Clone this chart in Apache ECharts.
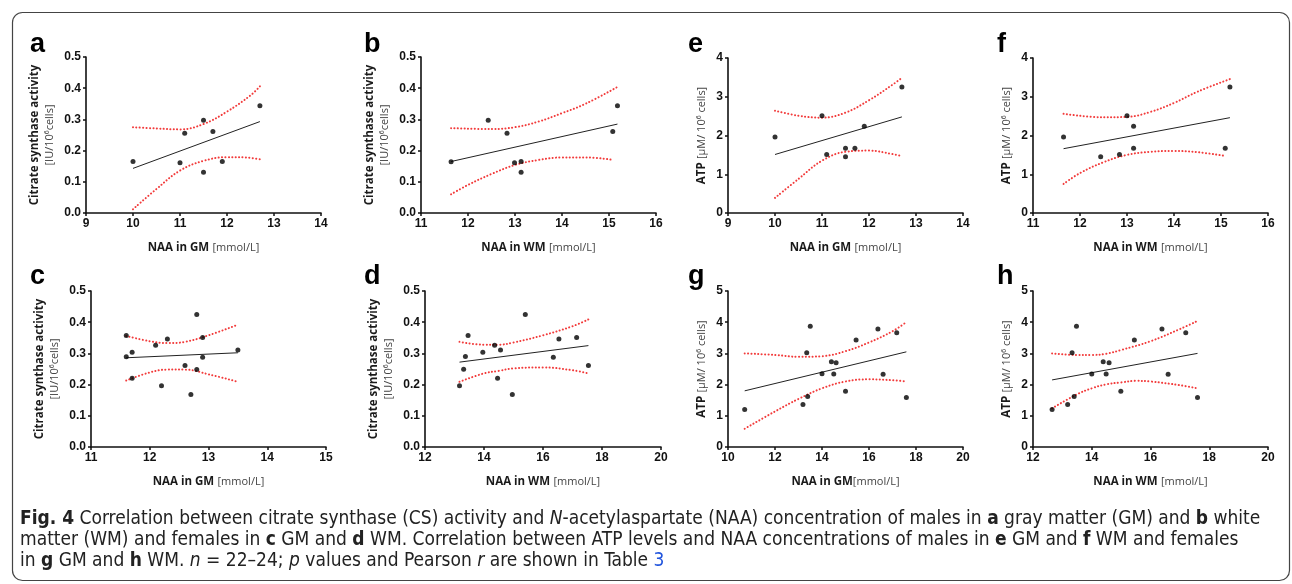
<!DOCTYPE html>
<html>
<head>
<meta charset="utf-8">
<script src="https://cdn.jsdelivr.net/npm/echarts/dist/echarts.min.js"></script>
<style>
html, body { margin: 0; padding: 0; background: #fff; }
#chart { width: 1292px; height: 584px; }
</style>
</head>
<body>
<div id="chart"></div>
<script>
// values: [NAA, y]
const aPts = [[10.0, 0.165], [11.0, 0.161], [11.1, 0.256], [11.5, 0.297], [11.7, 0.261], [11.5, 0.131], [11.9, 0.165], [12.7, 0.344]]
const aFit = [[10.0, 0.143], [12.7, 0.293]]
const aUpper = [[10.0, 0.275], [10.5, 0.271], [11.0, 0.268], [11.5, 0.285], [12.0, 0.325], [12.5, 0.377], [12.7, 0.406]]
const aLower = [[10.0, 0.012], [10.5, 0.077], [11.0, 0.136], [11.5, 0.167], [12.0, 0.179], [12.4, 0.178], [12.7, 0.172]]

const bPts = [[11.64, 0.164], [12.43, 0.297], [12.83, 0.256], [12.99, 0.161], [13.13, 0.165], [13.13, 0.131], [15.08, 0.261], [15.18, 0.344]]
const bFit = [[11.64, 0.165], [15.18, 0.285]]
const bUpper = [[11.64, 0.272], [12.5, 0.269], [13.0, 0.275], [13.5, 0.293], [14.0, 0.320], [14.5, 0.350], [15.18, 0.404]]
const bLower = [[11.64, 0.060], [12.0, 0.090], [12.5, 0.125], [13.0, 0.154], [13.5, 0.170], [14.0, 0.178], [14.5, 0.178], [15.1, 0.170]]

const cPts = [[11.6, 0.357], [11.6, 0.289], [11.7, 0.304], [11.7, 0.220], [12.1, 0.326], [12.3, 0.346], [12.2, 0.196], [12.6, 0.261], [12.7, 0.168], [12.8, 0.425], [12.8, 0.248], [12.9, 0.351], [12.9, 0.288], [13.5, 0.311]]
const cFit = [[11.6, 0.286], [13.5, 0.302]]
const cUpper = [[11.6, 0.356], [12.0, 0.339], [12.3, 0.333], [12.6, 0.337], [13.0, 0.358], [13.5, 0.392]]
const cLower = [[11.6, 0.213], [12.0, 0.239], [12.3, 0.248], [12.6, 0.248], [13.0, 0.233], [13.5, 0.209]]

const dPts = [[13.17, 0.196], [13.31, 0.249], [13.37, 0.290], [13.46, 0.357], [13.96, 0.304], [14.36, 0.326], [14.56, 0.311], [14.46, 0.220], [14.96, 0.168], [15.40, 0.425], [16.35, 0.288], [16.54, 0.346], [17.14, 0.351], [17.54, 0.261]]
const dFit = [[13.17, 0.272], [17.54, 0.325]]
const dUpper = [[13.17, 0.337], [14.0, 0.328], [14.5, 0.328], [15.0, 0.335], [16.0, 0.358], [17.0, 0.387], [17.54, 0.409]]
const dLower = [[13.17, 0.209], [14.0, 0.236], [14.5, 0.244], [15.0, 0.252], [16.0, 0.255], [17.0, 0.246], [17.54, 0.236]]

const ePts = [[10.0, 1.96], [11.0, 2.51], [11.1, 1.51], [11.5, 1.67], [11.5, 1.45], [11.7, 1.67], [11.9, 2.24], [12.7, 3.25]]
const eFit = [[10.0, 1.51], [12.7, 2.48]]
const eUpper = [[10.0, 2.64], [10.5, 2.51], [11.0, 2.46], [11.5, 2.59], [12.0, 2.91], [12.5, 3.31], [12.7, 3.49]]
const eLower = [[10.0, 0.39], [10.5, 0.88], [11.0, 1.35], [11.5, 1.58], [12.0, 1.61], [12.5, 1.52], [12.7, 1.47]]

const fPts = [[11.65, 1.96], [12.44, 1.45], [12.84, 1.51], [13.0, 2.51], [13.14, 2.24], [13.14, 1.67], [15.09, 1.67], [15.19, 3.25]]
const fFit = [[11.65, 1.66], [15.19, 2.46]]
const fUpper = [[11.65, 2.56], [12.5, 2.47], [13.0, 2.48], [13.5, 2.61], [14.0, 2.84], [14.5, 3.13], [15.2, 3.46]]
const fLower = [[11.65, 0.75], [12.0, 1.03], [12.5, 1.31], [13.0, 1.50], [13.5, 1.58], [14.0, 1.60], [14.5, 1.57], [15.1, 1.47]]

const gPts = [[10.71, 1.20], [13.19, 1.36], [13.39, 1.62], [13.35, 3.02], [13.50, 3.87], [14.0, 2.35], [14.40, 2.73], [14.60, 2.70], [14.50, 2.34], [15.0, 1.79], [15.45, 3.43], [16.38, 3.78], [16.60, 2.33], [17.18, 3.66], [17.59, 1.59]]
const gFit = [[10.71, 1.80], [17.59, 3.05]]
const gUpper = [[10.71, 3.00], [12.0, 2.95], [13.0, 2.89], [14.0, 2.91], [15.0, 3.07], [16.0, 3.35], [17.0, 3.71], [17.6, 4.01]]
const gLower = [[10.71, 0.585], [12.0, 1.14], [13.0, 1.54], [14.0, 1.88], [15.0, 2.10], [16.0, 2.17], [17.0, 2.14], [17.6, 2.10]]

const hPts = [[12.65, 1.20], [13.18, 1.36], [13.40, 1.62], [13.33, 3.02], [13.48, 3.87], [14.0, 2.34], [14.39, 2.73], [14.59, 2.70], [14.49, 2.34], [14.99, 1.79], [15.45, 3.43], [16.39, 3.78], [16.60, 2.33], [17.20, 3.66], [17.60, 1.59]]
const hFit = [[12.65, 2.15], [17.60, 3.00]]
const hUpper = [[12.65, 3.00], [13.5, 2.95], [14.0, 2.95], [14.5, 2.99], [15.0, 3.11], [16.0, 3.39], [17.0, 3.78], [17.6, 4.04]]
const hLower = [[12.65, 1.24], [13.5, 1.69], [14.0, 1.88], [14.5, 2.01], [15.0, 2.07], [15.5, 2.12], [16.0, 2.10], [17.0, 1.98], [17.6, 1.88]]

// axis ranges [min, max, interval]
const csRange = [0, 0.5, 0.1]
const panels = [
    { key: 'a', pts: aPts, fit: aFit, upper: aUpper, lower: aLower, x: [9, 14, 1], y: csRange, xName: '{b|NAA in GM} {r|[mmol/L]}', kind: 'cs' },
    { key: 'b', pts: bPts, fit: bFit, upper: bUpper, lower: bLower, x: [11, 16, 1], y: csRange, xName: '{b|NAA in WM} {r|[mmol/L]}', kind: 'cs' },
    { key: 'e', pts: ePts, fit: eFit, upper: eUpper, lower: eLower, x: [9, 14, 1], y: [0, 4, 1], xName: '{b|NAA in GM} {r|[mmol/L]}', kind: 'atp' },
    { key: 'f', pts: fPts, fit: fFit, upper: fUpper, lower: fLower, x: [11, 16, 1], y: [0, 4, 1], xName: '{b|NAA in WM} {r|[mmol/L]}', kind: 'atp' },
    { key: 'c', pts: cPts, fit: cFit, upper: cUpper, lower: cLower, x: [11, 15, 1], y: csRange, xName: '{b|NAA in GM} {r|[mmol/L]}', kind: 'cs' },
    { key: 'd', pts: dPts, fit: dFit, upper: dUpper, lower: dLower, x: [12, 20, 2], y: csRange, xName: '{b|NAA in WM} {r|[mmol/L]}', kind: 'cs' },
    { key: 'g', pts: gPts, fit: gFit, upper: gUpper, lower: gLower, x: [10, 20, 2], y: [0, 5, 1], xName: '{b|NAA in GM}{r|[mmol/L]}', kind: 'atp' },
    { key: 'h', pts: hPts, fit: hFit, upper: hUpper, lower: hLower, x: [12, 20, 2], y: [0, 5, 1], xName: '{b|NAA in WM} {r|[mmol/L]}', kind: 'atp' }
]

const layout = {
    a: { left: 86, top: 57, width: 235, height: 156, lx: 30, ly: 45 },
    b: { left: 421, top: 57, width: 235, height: 156, lx: 364, ly: 45 },
    e: { left: 728, top: 58, width: 235, height: 155, lx: 688, ly: 45 },
    f: { left: 1033, top: 58, width: 235, height: 155, lx: 997, ly: 45 },
    c: { left: 91, top: 291, width: 235, height: 156, lx: 30, ly: 277 },
    d: { left: 425, top: 291, width: 236, height: 156, lx: 364, ly: 277 },
    g: { left: 728, top: 291, width: 235, height: 156, lx: 688, ly: 277 },
    h: { left: 1033, top: 291, width: 235, height: 156, lx: 997, ly: 277 }
}

const ARIAL = 'Liberation Sans, Arial, sans-serif'
const TITLE = 'Open Sans, Liberation Sans, sans-serif'
const ink = '#111'

const tickLabel = { fontFamily: ARIAL, fontWeight: 'bold', fontSize: 12, color: ink }
const nameRich = {
    b: { fontFamily: TITLE, fontWeight: 'bold', fontSize: 11.5, color: '#1a1a1a', lineHeight: 15 },
    r: { fontFamily: TITLE, fontSize: 11, color: '#444', lineHeight: 15 }
}

const grids = [], xAxes = [], yAxes = [], series = [], graphics = []

panels.forEach((p, i) => {
    const L = layout[p.key]
    grids.push({ left: L.left, top: L.top, width: L.width, height: L.height, containLabel: false })

    const axisLine = { show: true, onZero: false, lineStyle: { color: ink, width: 1.6 } }
    const axisTick = { show: true, length: 3, lineStyle: { color: ink, width: 1.5 } }

    xAxes.push({
        gridIndex: i, type: 'value', min: p.x[0], max: p.x[1], interval: p.x[2],
        axisLine, axisTick, splitLine: { show: false },
        axisLabel: Object.assign({ margin: 5 }, tickLabel),
        name: p.xName, nameLocation: 'middle', nameGap: 27,
        nameTextStyle: { rich: nameRich }
    })

    const cs = p.kind === 'cs'
    yAxes.push({
        gridIndex: i, type: 'value', min: p.y[0], max: p.y[1], interval: p.y[2],
        axisLine, axisTick, splitLine: { show: false },
        axisLabel: Object.assign({ margin: 5, formatter: v => cs ? v.toFixed(1) : String(v) }, tickLabel),
        name: cs ? '{b|Citrate synthase activity}\n{r|[IU/10⁶cells]}' : '{b|ATP} {r|[µM/ 10⁶ cells]}',
        nameLocation: 'middle', nameRotate: 90, nameGap: cs ? 29 : 19,
        nameTextStyle: { rich: nameRich }
    })

    const band = {
        type: 'line', xAxisIndex: i, yAxisIndex: i, smooth: 0.4, symbol: 'none', silent: true,
        lineStyle: { color: '#f23b3b', width: 2, type: [0.1, 3.3], cap: 'round' }, z: 2
    }
    series.push(Object.assign({ data: p.upper }, band))
    series.push(Object.assign({ data: p.lower }, band))
    series.push({
        type: 'line', xAxisIndex: i, yAxisIndex: i, data: p.fit, symbol: 'none', silent: true,
        lineStyle: { color: '#222', width: 1 }, z: 3
    })
    series.push({
        type: 'scatter', xAxisIndex: i, yAxisIndex: i, data: p.pts, symbolSize: 5,
        itemStyle: { color: '#000' }, z: 4
    })

    graphics.push({
        type: 'text', x: L.lx, y: L.ly,
        style: { text: p.key, fontFamily: ARIAL, fontWeight: 'bold', fontSize: 27, fill: '#000', verticalAlign: 'middle' }
    })
})

const capFont = 'Liberation Sans Narrow, DejaVu Sans Condensed, Liberation Sans, sans-serif'
const cap = (extra) => Object.assign({ fontFamily: capFont, fontSize: 19, lineHeight: 21, fill: '#222', color: '#222' }, extra)
const caption =
    '{B|Fig. 4} Correlation between citrate synthase (CS) activity and {I|N}-acetylaspartate (NAA) concentration of males in {B|a} gray matter (GM) and {B|b} white\n' +
    'matter (WM) and females in {B|c} GM and {B|d} WM. Correlation between ATP levels and NAA concentrations of males in {B|e} GM and {B|f} WM and females\n' +
    'in {B|g} GM and {B|h} WM. {I|n} = 22–24; {I|p} values and Pearson {I|r} are shown in Table {L|3}'

graphics.push({
    type: 'text', x: 20, y: 509, silent: true,
    style: Object.assign(cap({}), {
        text: caption, verticalAlign: 'top',
        rich: {
            B: cap({ fontWeight: 'bold' }),
            I: cap({ fontStyle: 'italic' }),
            L: cap({ fill: '#2255dd', color: '#2255dd' })
        }
    })
})

graphics.push({
    type: 'rect', silent: true, z: -1,
    shape: { x: 12.5, y: 12.5, width: 1277, height: 568, r: 10 },
    style: { fill: 'none', stroke: '#444', lineWidth: 1.2 }
})

const chart = echarts.init(document.getElementById('chart'))
chart.setOption({
    backgroundColor: '#fff',
    animation: false,
    grid: grids,
    xAxis: xAxes,
    yAxis: yAxes,
    series,
    graphic: graphics
})
</script>
</body>
</html>
